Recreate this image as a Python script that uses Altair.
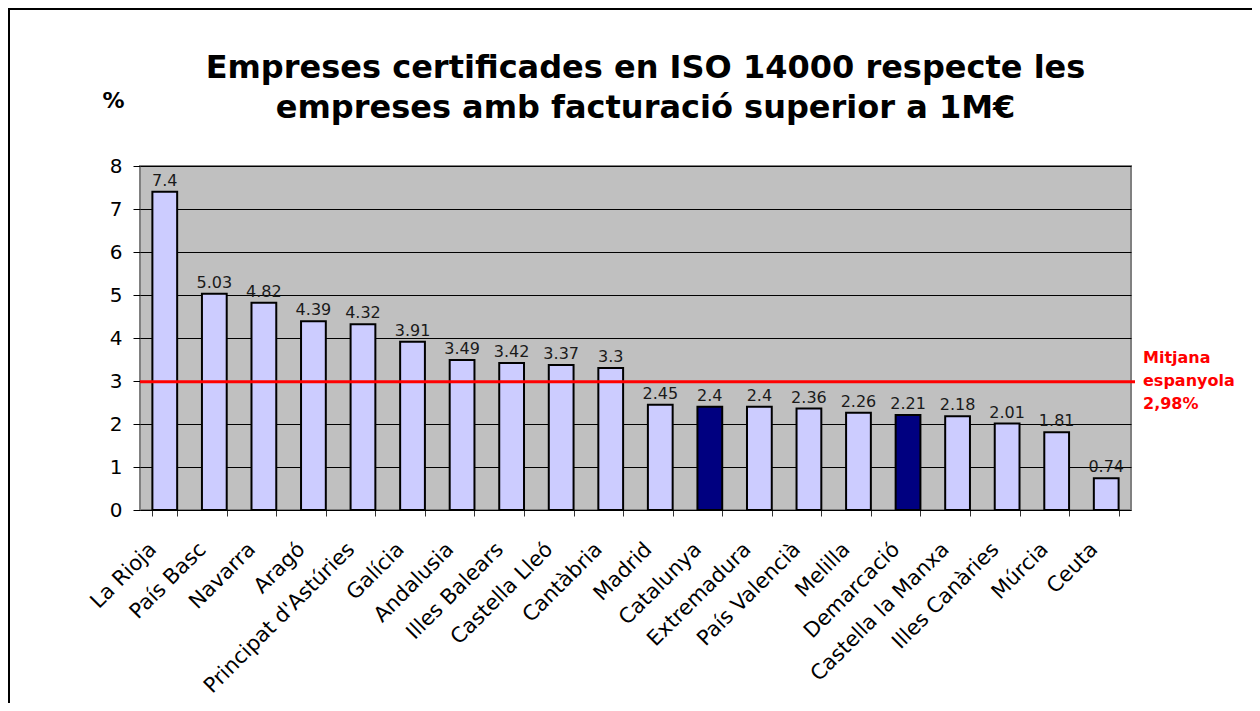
import altair as alt
import pandas as pd

regions = ["La Rioja", "País Basc", "Navarra", "Aragó", "Principat d'Astúries",
           "Galícia", "Andalusia", "Illes Balears", "Castella Lleó", "Cantàbria",
           "Madrid", "Catalunya", "Extremadura", "País Valencià", "Melilla",
           "Demarcació", "Castella la Manxa", "Illes Canàries", "Múrcia", "Ceuta"]
values = [7.4, 5.03, 4.82, 4.39, 4.32, 3.91, 3.49, 3.42, 3.37, 3.3,
          2.45, 2.4, 2.4, 2.36, 2.26, 2.21, 2.18, 2.01, 1.81, 0.74]
labels = ["7.4", "5.03", "4.82", "4.39", "4.32", "3.91", "3.49", "3.42", "3.37", "3.3",
          "2.45", "2.4", "2.4", "2.36", "2.26", "2.21", "2.18", "2.01", "1.81", "0.74"]
groups = ["altres"] * 11 + ["destacat"] + ["altres"] * 3 + ["destacat"] + ["altres"] * 4
mean_value = [2.98]
mean_label = ["Mitjana", "espanyola", "2,98%"]
title_lines = ["Empreses certificades en ISO 14000 respecte les",
               "empreses amb facturació superior a 1M€"]

W, H = 991, 344
FONT = "DejaVu Sans"

df = pd.DataFrame({"regio": regions, "valor": values, "etiqueta": labels, "grup": groups})
mean_df = pd.DataFrame({"mitjana": mean_value})

x_enc = alt.X("regio:N", sort=regions, title=None,
              scale=alt.Scale(paddingInner=0.5, paddingOuter=0.25),
              axis=alt.Axis(labelAngle=-45, labelAlign="right", labelBaseline="middle",
                            labelFontSize=21, labelFont=FONT, labelColor="#000000",
                            labelPadding=30, labelOffset=-12, labelLimit=0,
                            tickBand="extent", tickExtra=True,
                            tickSize=6, tickColor="#333333", tickWidth=1,
                            domain=False, grid=False))
y_scale = alt.Scale(domain=[0, 8], nice=False)

bars = alt.Chart(df).mark_bar(stroke="#000000", strokeWidth=2).encode(
    x=x_enc,
    y=alt.Y("valor:Q", scale=y_scale,
            axis=alt.Axis(values=list(range(0, 9)), title="%", titleAngle=0,
                          titleAlign="center", titleBaseline="middle",
                          titleX=-27, titleY=-66, titleFontSize=22, titleFont=FONT,
                          titleFontWeight="bold", titleColor="#000000",
                          labelFontSize=20, labelFont=FONT, labelColor="#000000",
                          labelPadding=11, tickSize=7, tickColor="#000000",
                          domain=False, grid=True, gridColor="#000000", gridWidth=1)),
    color=alt.Color("grup:N", scale=alt.Scale(domain=["altres", "destacat"],
                                              range=["#CCCCFF", "#000080"]), legend=None),
)

text = alt.Chart(df).mark_text(baseline="bottom", dy=-3, fontSize=16, font=FONT,
                               color="#1a1a1a").encode(
    x=alt.X("regio:N", sort=regions),
    y=alt.Y("valor:Q", scale=y_scale),
    text="etiqueta:N",
)

mean_rule = alt.Chart(mean_df).mark_rule(color="#FF0000", strokeWidth=3).encode(
    y=alt.Y("mitjana:Q", scale=y_scale),
    x=alt.value(0), x2=alt.value(W + 4),
)

mean_text = alt.Chart(mean_df).mark_text(
    align="left", baseline="middle", fontSize=16, font=FONT, fontWeight="bold",
    color="#FF0000", lineHeight=23, dy=-24,
).encode(
    y=alt.Y("mitjana:Q", scale=y_scale),
    x=alt.value(W + 12),
    text=alt.value(mean_label),
)

title_text = alt.Chart(mean_df).mark_text(
    align="center", baseline="middle", fontSize=32, font=FONT, fontWeight="bold",
    color="#000000", lineHeight=40,
).encode(
    x=alt.value(W / 2 + 10),
    y=alt.value(-98),
    text=alt.value(title_lines),
)

frame_left = alt.Chart(mean_df).mark_rule(color="#000000", strokeWidth=2).encode(
    x=alt.value(-131), y=alt.value(-158), y2=alt.value(H + 210))
frame_top = alt.Chart(mean_df).mark_rule(color="#000000", strokeWidth=2).encode(
    y=alt.value(-157), x=alt.value(-132), x2=alt.value(W + 140))

chart = alt.layer(bars, text, mean_rule, mean_text, title_text, frame_left, frame_top).properties(
    width=W, height=H,
    autosize=alt.AutoSizeParams(type="none"),
    padding={"left": 132, "top": 158, "right": 121, "bottom": 193},
    background="#FFFFFF",
).configure_view(fill="#C0C0C0", stroke="#808080", strokeWidth=2)

chart.save("out.html", embed_options={"renderer": "svg", "actions": False})
